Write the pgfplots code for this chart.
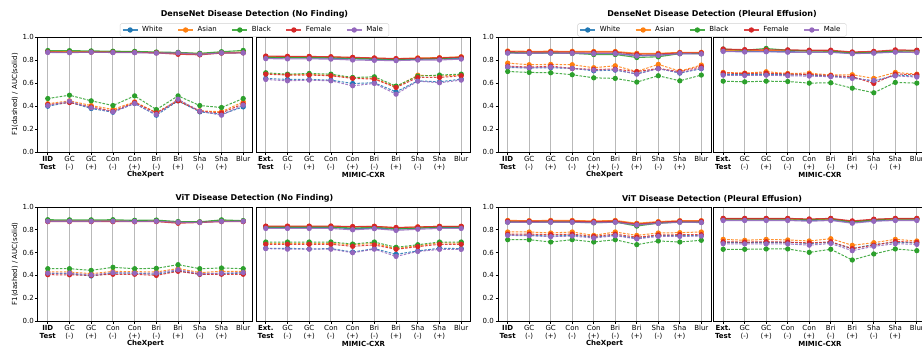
\documentclass[border=0pt]{standalone}
\usepackage{pgfplots}
\pgfplotsset{compat=1.18}
\usepackage{pgfplotstable}
\usepackage{fontspec}
\setmainfont{DejaVu Sans}

\definecolor{cW}{HTML}{1F77B4}
\definecolor{cA}{HTML}{FF7F0E}
\definecolor{cB}{HTML}{2CA02C}
\definecolor{cF}{HTML}{D62728}
\definecolor{cM}{HTML}{9467BD}

% rows = series (xA = AUC solid, xF = F1 dashed), columns = the 10 test sets
\pgfplotstableread{
s  c0   c1   c2   c3   c4   c5   c6   c7   c8   c9
WA .872 .870 .870 .869 .868 .864 .860 .852 .862 .864
AA .874 .872 .872 .871 .870 .866 .862 .855 .865 .868
BA .882 .881 .879 .876 .875 .869 .866 .858 .872 .883
FA .869 .866 .868 .867 .866 .862 .850 .845 .860 .862
MA .866 .864 .868 .865 .864 .860 .862 .850 .862 .862
WF .398 .433 .378 .346 .422 .320 .445 .349 .329 .392
AF .420 .445 .404 .370 .436 .343 .450 .358 .350 .436
BF .465 .494 .445 .404 .488 .369 .488 .404 .387 .465
FF .413 .430 .392 .355 .430 .340 .445 .355 .340 .419
MF .404 .442 .384 .349 .422 .326 .459 .355 .320 .407
}\rawA
\pgfplotstableread{
s  c0   c1   c2   c3   c4   c5   c6   c7   c8   c9
WA .820 .818 .818 .816 .810 .806 .802 .806 .810 .815
AA .830 .828 .828 .826 .820 .815 .810 .818 .820 .828
BA .825 .822 .822 .820 .815 .810 .805 .810 .812 .822
FA .834 .832 .831 .828 .823 .818 .812 .815 .818 .825
MA .812 .810 .810 .808 .800 .797 .795 .800 .800 .808
WF .640 .631 .631 .625 .596 .602 .523 .619 .610 .634
AF .683 .672 .674 .668 .645 .640 .565 .668 .660 .670
BF .689 .677 .683 .677 .648 .654 .573 .660 .669 .677
FF .677 .669 .669 .663 .640 .634 .561 .648 .648 .663
MF .631 .619 .625 .619 .576 .596 .503 .616 .602 .625
}\rawB
\pgfplotstableread{
s  c0   c1   c2   c3   c4   c5   c6   c7   c8   c9
WA .862 .860 .860 .860 .857 .857 .840 .842 .857 .855
AA .878 .875 .876 .875 .874 .874 .858 .858 .866 .866
BA .865 .860 .862 .858 .848 .848 .822 .828 .855 .855
FA .872 .870 .870 .869 .868 .868 .850 .852 .862 .862
MA .860 .858 .860 .858 .855 .855 .835 .840 .855 .853
WF .735 .730 .733 .727 .706 .712 .680 .727 .686 .724
AF .773 .759 .762 .759 .733 .750 .700 .762 .703 .756
BF .700 .692 .689 .672 .645 .640 .608 .663 .619 .669
FF .747 .738 .747 .727 .718 .721 .698 .727 .698 .741
MF .741 .733 .738 .727 .712 .715 .677 .724 .690 .727
}\rawC
\pgfplotstableread{
s  c0   c1   c2   c3   c4   c5   c6   c7   c8   c9
WA .878 .875 .875 .872 .870 .870 .858 .862 .872 .870
AA .885 .882 .885 .882 .880 .878 .865 .870 .880 .878
BA .895 .885 .900 .885 .880 .878 .862 .868 .878 .882
FA .895 .890 .888 .888 .885 .885 .870 .875 .888 .885
MA .875 .870 .872 .868 .866 .866 .855 .860 .868 .865
WF .675 .672 .675 .672 .669 .660 .648 .615 .669 .660
AF .692 .686 .698 .683 .686 .669 .672 .640 .692 .677
BF .616 .610 .616 .613 .599 .602 .555 .515 .605 .599
FF .686 .683 .686 .678 .675 .665 .655 .596 .678 .672
MF .668 .665 .668 .663 .660 .655 .640 .622 .662 .652
}\rawD
\pgfplotstableread{
s  c0   c1   c2   c3   c4   c5   c6   c7   c8   c9
WA .880 .879 .879 .879 .877 .879 .868 .868 .878 .878
AA .878 .878 .878 .878 .876 .878 .866 .868 .878 .877
BA .888 .887 .887 .888 .883 .885 .872 .870 .887 .880
FA .872 .872 .872 .872 .871 .872 .858 .864 .872 .872
MA .875 .875 .875 .876 .874 .875 .866 .865 .874 .875
WF .415 .415 .395 .420 .420 .410 .440 .410 .415 .420
AF .430 .430 .415 .435 .433 .430 .460 .425 .435 .435
BF .459 .459 .444 .471 .459 .462 .494 .459 .465 .459
FF .406 .405 .400 .410 .410 .400 .436 .410 .410 .410
MF .420 .420 .405 .425 .420 .420 .450 .415 .420 .425
}\rawE
\pgfplotstableread{
s  c0   c1   c2   c3   c4   c5   c6   c7   c8   c9
WA .820 .820 .820 .820 .810 .815 .805 .815 .820 .820
AA .830 .830 .830 .830 .826 .830 .817 .825 .830 .830
BA .825 .825 .825 .825 .815 .822 .810 .815 .825 .825
FA .832 .832 .832 .833 .828 .830 .820 .825 .830 .830
MA .812 .812 .812 .812 .800 .810 .795 .805 .812 .812
WF .638 .638 .632 .635 .605 .635 .585 .615 .638 .635
AF .680 .680 .680 .680 .670 .680 .635 .660 .685 .683
BF .693 .693 .693 .693 .675 .693 .646 .669 .693 .693
FF .673 .673 .673 .673 .655 .667 .629 .652 .673 .673
MF .635 .630 .630 .630 .599 .630 .567 .610 .628 .628
}\rawF
\pgfplotstableread{
s  c0   c1   c2   c3   c4   c5   c6   c7   c8   c9
WA .870 .870 .870 .870 .865 .870 .845 .860 .870 .868
AA .882 .880 .882 .882 .877 .882 .857 .872 .880 .880
BA .868 .868 .868 .868 .862 .868 .833 .858 .868 .866
FA .876 .875 .876 .876 .872 .876 .850 .866 .876 .876
MA .866 .866 .866 .866 .862 .866 .842 .857 .866 .864
WF .755 .753 .745 .753 .735 .753 .725 .750 .750 .750
AF .781 .781 .772 .781 .751 .781 .751 .772 .775 .781
BF .713 .713 .693 .713 .693 .713 .670 .702 .693 .708
FF .762 .762 .757 .762 .742 .762 .735 .755 .757 .757
MF .751 .748 .740 .745 .728 .748 .720 .742 .742 .745
}\rawG
\pgfplotstableread{
s  c0   c1   c2   c3   c4   c5   c6   c7   c8   c9
WA .888 .888 .888 .888 .882 .888 .865 .880 .888 .888
AA .895 .895 .895 .895 .888 .895 .872 .887 .895 .895
BA .897 .897 .897 .897 .890 .897 .870 .888 .897 .897
FA .900 .900 .900 .900 .895 .900 .878 .893 .900 .900
MA .882 .882 .882 .882 .875 .882 .858 .875 .882 .882
WF .690 .688 .690 .690 .680 .690 .635 .672 .690 .685
AF .716 .708 .716 .711 .702 .722 .664 .687 .716 .702
BF .629 .629 .632 .632 .602 .629 .535 .588 .632 .617
FF .695 .692 .695 .692 .685 .695 .635 .665 .698 .690
MF .678 .676 .676 .676 .665 .680 .617 .655 .678 .672
}\rawH
\pgfplotstabletranspose[colnames from=s]\tA\rawA
\pgfplotstabletranspose[colnames from=s]\tB\rawB
\pgfplotstabletranspose[colnames from=s]\tC\rawC
\pgfplotstabletranspose[colnames from=s]\tD\rawD
\pgfplotstabletranspose[colnames from=s]\tE\rawE
\pgfplotstabletranspose[colnames from=s]\tF\rawF
\pgfplotstabletranspose[colnames from=s]\tG\rawG
\pgfplotstabletranspose[colnames from=s]\tH\rawH

\pgfplotsset{
  auc/.style={solid, line width=1.1pt, opacity=0.85, mark=*, mark size=2.1pt, mark options={solid, opacity=1}},
  fone/.style={dash pattern=on 2.6pt off 1.4pt, line width=1pt, opacity=0.85, mark=*, mark size=2.1pt, mark options={solid, opacity=1}},
  panel/.style={
    scale only axis, height=115pt,
    xmin=-0.45, xmax=9.45, ymin=0, ymax=1,
    xtick={0,1,2,3,4,5,6,7,8,9},
    ytick={0,0.2,0.4,0.6,0.8,1.0},
    xmajorgrids,
    major grid style={gray!55, line width=1pt},
    axis line style={black, line width=1pt},
    tick align=outside, tick pos=left, major tick length=2.5pt,
    tick style={black, line width=0.7pt},
    ticklabel style={font=\fontsize{7}{8.3}\selectfont},
    xticklabel style={align=center, inner sep=1pt, yshift=-0.5pt},
    yticklabel style={inner sep=1.5pt},
    /pgf/number format/assume math mode=true,
    yticklabel style={/pgf/number format/.cd, fixed, fixed zerofill, precision=1},
    xlabel style={font=\bfseries\fontsize{7}{8}\selectfont, at={(axis description cs:0.5,0)}, anchor=center, yshift=-23pt},
    ylabel style={font=\fontsize{7}{8}\selectfont, at={(axis description cs:-0.107,0.5)}, anchor=center},
    legend image code/.code={\draw[mark repeat=2,mark phase=2,##1] plot coordinates {(0pt,0pt) (7.5pt,0pt) (15pt,0pt)};},
  },
  chex/.style={panel,
    xticklabels={{\textbf{IID}\\\textbf{Test}},{GC\\(-)},{GC\\(+)},{Con\\(-)},{Con\\(+)},{Bri\\(-)},{Bri\\(+)},{Sha\\(-)},{Sha\\(+)},{Blur}},
    xlabel={CheXpert}},
  mimic/.style={panel, ytick=\empty,
    xticklabels={{\textbf{Ext.}\\\textbf{Test}},{GC\\(-)},{GC\\(+)},{Con\\(-)},{Con\\(+)},{Bri\\(-)},{Bri\\(+)},{Sha\\(-)},{Sha\\(+)},{Blur}},
    xlabel={MIMIC-CXR}},
  leg/.style={legend style={at={(#1)}, anchor=center, legend columns=5, draw=gray!35, rounded corners=1.5pt,
    font=\fontsize{7}{8}\selectfont, inner xsep=2pt, inner ysep=1pt, fill=white,
    nodes={inner xsep=4pt},
    /tikz/every even column/.append style={column sep=11pt}}},
}

\newcommand\plotgroups[1]{%
  \addplot[auc, cW] table[x expr=\coordindex, y=WA]{#1};
  \addplot[auc, cA] table[x expr=\coordindex, y=AA]{#1};
  \addplot[auc, cB] table[x expr=\coordindex, y=BA]{#1};
  \addplot[auc, cF] table[x expr=\coordindex, y=FA]{#1};
  \addplot[auc, cM] table[x expr=\coordindex, y=MA]{#1};
  \addplot[fone, cW] table[x expr=\coordindex, y=WF]{#1};
  \addplot[fone, cA] table[x expr=\coordindex, y=AF]{#1};
  \addplot[fone, cB] table[x expr=\coordindex, y=BF]{#1};
  \addplot[fone, cF] table[x expr=\coordindex, y=FF]{#1};
  \addplot[fone, cM] table[x expr=\coordindex, y=MF]{#1};
}

\begin{document}
\begin{tikzpicture}[x=1pt,y=1pt]
\useasboundingbox (0,0) rectangle (922,349);
\clip (0,0) rectangle (922,349);
\fill[white] (0,0) rectangle (922,349);

% ---------- top left: DenseNet No Finding ----------
\begin{axis}[chex, width=215pt, at={(38pt,197pt)}, anchor=south west,
  ylabel={F1(dashed) / AUC(solid)}, leg={1.007,1.061}]
  \plotgroups{\tA}
  \legend{White,Asian,Black,Female,Male}
\end{axis}
\begin{axis}[mimic, width=215pt, at={(256pt,197pt)}, anchor=south west]
  \plotgroups{\tB}
\end{axis}

% ---------- top right: DenseNet Pleural Effusion ----------
\begin{axis}[chex, width=213pt, at={(498pt,197pt)}, anchor=south west, leg={1.005,1.061}]
  \plotgroups{\tC}
  \legend{White,Asian,Black,Female,Male}
\end{axis}
\begin{axis}[mimic, width=213pt, at={(713.5pt,197pt)}, anchor=south west]
  \plotgroups{\tD}
\end{axis}

% ---------- bottom left: ViT No Finding ----------
\begin{axis}[chex, width=215pt, height=114pt, at={(38pt,28pt)}, anchor=south west,
  ylabel={F1(dashed) / AUC(solid)}]
  \plotgroups{\tE}
\end{axis}
\begin{axis}[mimic, width=215pt, height=114pt, at={(256pt,28pt)}, anchor=south west]
  \plotgroups{\tF}
\end{axis}

% ---------- bottom right: ViT Pleural Effusion ----------
\begin{axis}[chex, width=213pt, height=114pt, at={(498pt,28pt)}, anchor=south west]
  \plotgroups{\tG}
\end{axis}
\begin{axis}[mimic, width=213pt, height=114pt, at={(713.5pt,28pt)}, anchor=south west]
  \plotgroups{\tH}
\end{axis}

\node[font=\bfseries\fontsize{8}{9}\selectfont] at (254.5,335) {DenseNet Disease Detection (No Finding)};
\node[font=\bfseries\fontsize{8}{9}\selectfont] at (712,335) {DenseNet Disease Detection (Pleural Effusion)};
\node[font=\bfseries\fontsize{8}{9}\selectfont] at (254.5,150.5) {ViT Disease Detection (No Finding)};
\node[font=\bfseries\fontsize{8}{9}\selectfont] at (712,150.5) {ViT Disease Detection (Pleural Effusion)};
\end{tikzpicture}
\end{document}
